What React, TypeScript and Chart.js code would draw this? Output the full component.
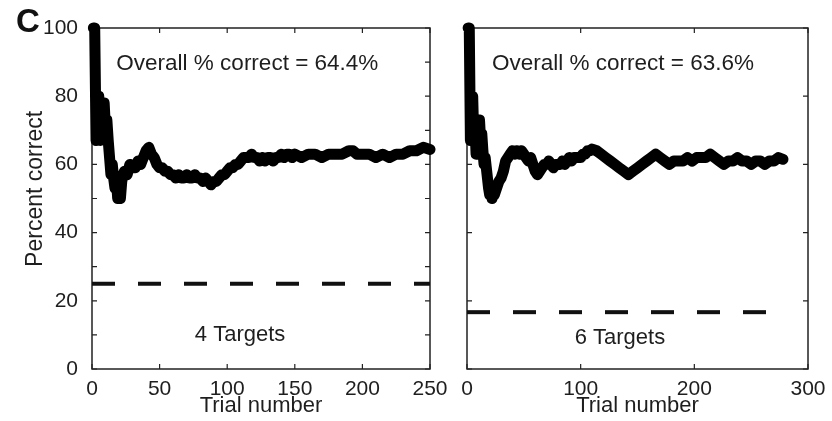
import React, { useEffect, useRef } from "react";
import { Chart, registerables } from "chart.js";

Chart.register(...registerables);

// ---- Data: 4 targets panel ----
const trials4 = [1,2,3,4,5,6,7,8,9,10,11,12,13,14,15,16,17,18,19,20,21,22,23,24,26,28,30,32,34,36,38,40,42,44,46,48,50,52,54,56,58,60,62,64,66,68,70,72,74,76,78,80,82,84,86,88,90,92,94,96,98,100,102,104,106,108,110,112,114,116,118,120,122,124,126,128,130,132,134,136,138,140,142,144,146,148,150,155,160,165,170,175,180,185,190,193,196,200,205,210,215,220,225,230,235,240,245,250];
const pct4 = [100,100,67,75,80,67,71,75,78,70,73,67,62,57,60,56,53,56,50,52,50,55,57,58,57,60,59,59,61,60,62,64,65,63,62,60,59,59,58,58,57,57,56,57,56,56,57,56,56,57,56,56,55,56,55,54,55,55,56,57,57,58,59,59,60,60,61,62,62,62,63,62,62,61,62,61,62,62,61,62,62,63,62,63,63,62,63,62,63,63,62,63,63,63,64,64,63,63,63,62,63,62,63,63,64,64,65,64.4];
const chance4 = 25;
const chanceEnd4 = 250;

// ---- Data: 6 targets panel ----
const trials6 = [1,2,3,4,5,6,7,8,9,10,11,12,13,14,15,16,17,18,19,20,21,22,23,24,26,28,30,32,34,36,38,40,42,44,46,48,50,52,54,56,58,60,62,64,66,68,70,72,74,76,78,80,82,84,86,88,90,92,94,96,98,100,102,104,106,108,110,114,118,122,126,130,134,138,142,146,150,154,158,162,166,170,174,178,182,186,190,194,198,202,206,210,214,218,222,226,230,234,238,242,246,250,254,258,262,266,270,274,278];
const pct6 = [100,100,67,75,80,67,71,63,67,70,73,67,69,64,60,62,59,56,53,51,52,50,52,51,53,55,56,58,61,62,63,64,63,64,63,64,63,62,61,62,60,58,57,58,59,60,60,61,60,59,60,60,60,61,60,61,62,61,62,62,62,62,63,63,64,64,64.5,64,63,62,61,60,59,58,57,58,59,60,61,62,63,62,61,60,61,61,61,62,61,62,62,62,63,62,61,60,61,61,62,61,61,60,61,61,60,61,61,62,61.5];
const chance6 = 100 / 6;
const chanceEnd6 = 265;

const overall4 = "Overall % correct = 64.4%";
const overall6 = "Overall % correct = 63.6%";
const label4 = "4 Targets";
const label6 = "6 Targets";

const FONT = "'Liberation Sans', Arial, Helvetica, sans-serif";
const TEXT = "#1e1e1e";

const framePlugin = {
  id: "frame",
  beforeDatasetsDraw(chart: any) {
    const { ctx, chartArea: ca, scales } = chart;
    ctx.save();
    ctx.strokeStyle = "#222";
    ctx.lineWidth = 1.5;
    ctx.strokeRect(ca.left, ca.top, ca.right - ca.left, ca.bottom - ca.top);
    const tl = 5;
    ctx.lineWidth = 1.2;
    ctx.beginPath();
    for (const t of scales.x.ticks) {
      const px = scales.x.getPixelForValue(t.value);
      ctx.moveTo(px, ca.bottom); ctx.lineTo(px, ca.bottom - tl);
      ctx.moveTo(px, ca.top); ctx.lineTo(px, ca.top + tl);
    }
    for (const t of scales.y.ticks) {
      const py = scales.y.getPixelForValue(t.value);
      ctx.moveTo(ca.left, py); ctx.lineTo(ca.left + tl, py);
      ctx.moveTo(ca.right, py); ctx.lineTo(ca.right - tl, py);
    }
    ctx.stroke();
    ctx.restore();
  },
  afterDraw(chart: any, _a: any, opts: any) {
    const { ctx, scales } = chart;
    ctx.save();
    ctx.fillStyle = TEXT;
    ctx.textBaseline = "middle";
    for (const t of opts.texts || []) {
      ctx.font = `${t.size || 22}px ${FONT}`;
      ctx.textAlign = t.align || "left";
      ctx.fillText(t.text, scales.x.getPixelForValue(t.x), scales.y.getPixelForValue(t.y));
    }
    if (opts.panelLetter) {
      ctx.font = `bold 33px ${FONT}`;
      ctx.textAlign = "left";
      ctx.fillStyle = "#111";
      ctx.fillText(opts.panelLetter, 16, 23);
    }
    ctx.restore();
  },
};

function makeConfig(
  trials: number[], pct: number[], chance: number, chanceEnd: number,
  xMax: number, xStep: number, yStep: number, showY: boolean,
  yWidth: number, rightPad: number, texts: any[], letter: string
): any {
  return {
    type: "line",
    data: {
      datasets: [
        {
          data: trials.map((t, i) => ({ x: t, y: pct[i] })),
          borderColor: "#000",
          borderWidth: 11,
          pointRadius: 0,
          borderJoinStyle: "round",
          borderCapStyle: "round",
          tension: 0,
          clip: false,
        },
        {
          data: [{ x: 0, y: chance }, { x: chanceEnd, y: chance }],
          borderColor: "#111",
          borderWidth: 4,
          borderDash: [23, 23],
          pointRadius: 0,
          clip: false,
        },
      ],
    },
    plugins: [framePlugin],
    options: {
      animation: false,
      responsive: false,
      devicePixelRatio: 1,
      events: [],
      layout: { padding: { left: 0, right: rightPad, top: 28, bottom: 0 } },
      plugins: {
        legend: { display: false },
        tooltip: { enabled: false },
        frame: { texts, panelLetter: letter },
      },
      scales: {
        x: {
          type: "linear",
          min: 0,
          max: xMax,
          grid: { display: false },
          border: { display: false },
          ticks: { stepSize: xStep, color: TEXT, font: { family: FONT, size: 21 }, padding: 0, maxRotation: 0 },
          title: { display: true, text: "Trial number", color: TEXT, font: { family: FONT, size: 22 }, padding: { top: 0, bottom: 2 } },
          afterFit: (s: any) => { s.height = 52; },
        },
        y: {
          type: "linear",
          min: 0,
          max: 100,
          grid: { display: false },
          border: { display: false },
          ticks: {
            display: showY,
            stepSize: yStep,
            color: TEXT,
            font: { family: FONT, size: 21 },
            padding: 6,
            callback: (v: number) => (v % 20 === 0 ? String(v) : ""),
          },
          title: { display: showY, text: "   Percent correct", color: TEXT, font: { family: FONT, size: 23 }, padding: { top: 22, bottom: 0 } },
          afterFit: (s: any) => { s.width = yWidth; },
        },
      },
    },
  };
}

export default function App() {
  const ref1 = useRef<HTMLCanvasElement>(null);
  const ref2 = useRef<HTMLCanvasElement>(null);
  useEffect(() => {
    document.body.style.margin = "0";
    const c1 = new Chart(
      ref1.current!,
      makeConfig(trials4, pct4, chance4, chanceEnd4, 250, 50, 10, true, 92, 20,
        [
          { text: overall4, x: 18, y: 89.5, size: 22.5 },
          { text: label4, x: 109.5, y: 10, align: "center" },
        ], "C")
    );
    const c2 = new Chart(
      ref2.current!,
      makeConfig(trials6, pct6, chance6, chanceEnd6, 300, 100, 20, false, 17, 24,
        [
          { text: overall6, x: 22, y: 89.5, size: 22.5 },
          { text: label6, x: 134.5, y: 9, align: "center" },
        ], "")
    );
    return () => { c1.destroy(); c2.destroy(); };
  }, []);
  return (
    <div style={{ position: "relative", width: 832, height: 421, background: "#fff" }}>
      <canvas ref={ref1} width={450} height={421} style={{ position: "absolute", left: 0, top: 0, display: "block" }} />
      <canvas ref={ref2} width={382} height={421} style={{ position: "absolute", left: 450, top: 0, display: "block" }} />
    </div>
  );
}
